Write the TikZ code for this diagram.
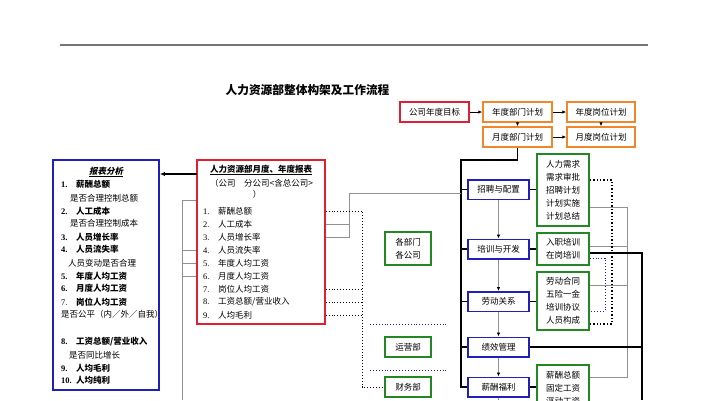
\documentclass[tikz,border=0pt]{standalone}
\usepackage{fontspec}
\setmainfont{Noto Sans CJK SC}
\newfontfamily\numf{Liberation Serif}
\newfontfamily\slantf{Noto Sans CJK SC}[FakeSlant=0.2]
\usetikzlibrary{arrows.meta}

\definecolor{boxred}{RGB}{222,32,52}
\definecolor{boxorange}{RGB}{240,135,45}
\definecolor{boxblue}{RGB}{32,32,185}
\definecolor{boxgreen}{RGB}{35,135,35}
\definecolor{linegray}{RGB}{145,145,145}

\begin{document}
\begin{tikzpicture}[x=1pt,y=-1pt,
    every node/.style={font=\fontsize{8.5}{13}\selectfont,inner sep=0pt},
    box/.style={draw,line width=1.5pt,fill=white,align=center},
    flow/.style={line width=0.8pt,-{Latex[length=4pt,width=3.5pt]}},
    spine/.style={line width=1.5pt},
    grayline/.style={linegray,line width=0.8pt},
    grayarrow/.style={grayline,-{Latex[color=black,length=4pt,width=3.5pt]}},
    blackdots/.style={line width=1.4pt,dotted},
    middots/.style={line width=0.9pt,dotted},
    bluedots/.style={boxblue,line width=0.9pt,dotted}]
    \useasboundingbox (0,0) rectangle (707,400);
    \clip (0,0) rectangle (707,400);

    \draw[linegray!80!black,line width=1.3pt](60,45)--(648,45);
    \node[font=\fontsize{11.7}{14}\selectfont\bfseries](title)at(307.5,90){人力资源部整体构架及工作流程};

    \node[box,draw=boxred,minimum width=69pt,minimum height=20pt](goal)at(434.5,112){公司年度目标};
    \node[box,draw=boxorange,minimum width=69pt,minimum height=20pt](ydept)at(517.5,112){年度部门计划};
    \node[box,draw=boxorange,minimum width=68pt,minimum height=20pt](ypost)at(601,112){年度岗位计划};
    \node[box,draw=boxorange,minimum width=69pt,minimum height=20pt](mdept)at(517.5,137){月度部门计划};
    \node[box,draw=boxorange,minimum width=68pt,minimum height=20pt](mpost)at(601,137){月度岗位计划};
    \draw[flow](goal)--(ydept);
    \draw[flow](ydept)--(ypost);
    \draw[flow](ydept)--(mdept);
    \draw[flow](ypost)--(mpost);
    \draw[flow](mdept)--(mpost);

    \node[draw=boxblue,line width=1.5pt,minimum width=106pt,minimum height=230pt](analysis)at(106,275){};
    \node[font=\fontsize{8.5}{13}\selectfont\bfseries\slantf](a0)at(106,172){\underline{报表分析}};
    \node[anchor=west,font=\fontsize{8.5}{13}\selectfont\bfseries](a1)at(61,184){\makebox[15pt][l]{\numf 1.}薪酬总额};
    \node[anchor=west](a2)at(70,198){是否合理控制总额};
    \node[anchor=west,font=\fontsize{8.5}{13}\selectfont\bfseries](a3)at(61,211){\makebox[15pt][l]{\numf 2.}人工成本};
    \node[anchor=west](a4)at(70,223){是否合理控制成本};
    \node[anchor=west,font=\fontsize{8.5}{13}\selectfont\bfseries](a5)at(61,237){\makebox[15pt][l]{\numf 3.}人员增长率};
    \node[anchor=west,font=\fontsize{8.5}{13}\selectfont\bfseries](a6)at(61,249){\makebox[15pt][l]{\numf 4.}人员流失率};
    \node[anchor=west](a7)at(68,263){人员变动是否合理};
    \node[anchor=west,font=\fontsize{8.5}{13}\selectfont\bfseries](a8)at(61,276){\makebox[15pt][l]{\numf 5.}年度人均工资};
    \node[anchor=west,font=\fontsize{8.5}{13}\selectfont\bfseries](a9)at(61,288){\makebox[15pt][l]{\numf 6.}月度人均工资};
    \node[anchor=west](a10)at(61,302){\makebox[15pt][l]{\numf 7.}\bfseries 岗位人均工资};
    \node[anchor=west](a11)at(61,314){是否公平（内／外／自我）};
    \node[anchor=west,font=\fontsize{8.5}{13}\selectfont\bfseries](a12)at(61,342){\makebox[15pt][l]{\numf 8.}工资总额/营业收入};
    \node[anchor=west](a13)at(69,355){是否同比增长};
    \node[anchor=west,font=\fontsize{8.5}{13}\selectfont\bfseries](a14)at(61,368){\makebox[15pt][l]{\numf 9.}人均毛利};
    \node[anchor=west,font=\fontsize{8.5}{13}\selectfont\bfseries](a15)at(61,380){\makebox[15pt][l]{\numf 10.}人均纯利};

    \node[draw=boxred,line width=1.5pt,minimum width=128pt,minimum height=164pt](report)at(261,242){};
    \node[font=\fontsize{8.5}{13}\selectfont\bfseries](r0)at(261,170){\underline{人力资源部月度、年度报表}};
    \node(rs)at(261.5,183){（公司　分公司<含总公司>};
    \node(rp)at(257,194){）};
    \node[anchor=west](r1)at(203,211){\makebox[15pt][l]{\numf 1.}薪酬总额};
    \node[anchor=west](r2)at(203,224){\makebox[15pt][l]{\numf 2.}人工成本};
    \node[anchor=west](r3)at(203,237){\makebox[15pt][l]{\numf 3.}人员增长率};
    \node[anchor=west](r4)at(203,250){\makebox[15pt][l]{\numf 4.}人员流失率};
    \node[anchor=west](r5)at(203,263){\makebox[15pt][l]{\numf 5.}年度人均工资};
    \node[anchor=west](r6)at(203,276){\makebox[15pt][l]{\numf 6.}月度人均工资};
    \node[anchor=west](r7)at(203,289){\makebox[15pt][l]{\numf 7.}岗位人均工资};
    \node[anchor=west](r8)at(203,302){\makebox[15pt][l]{\numf 8.}工资总额/营业收入};
    \node[anchor=west](r9)at(203,315){\makebox[15pt][l]{\numf 9.}人均毛利};

    \node[box,draw=boxgreen,minimum width=46pt,minimum height=33pt](depts)at(408,248.5){各部门\\各公司};
    \node[box,draw=boxgreen,minimum width=46pt,minimum height=20pt](ops)at(408,347){运营部};
    \node[box,draw=boxgreen,minimum width=46pt,minimum height=20pt](fin)at(408,387){财务部};

    \node[box,draw=boxblue,minimum width=61pt,minimum height=19.5pt](recruit)at(498.5,189.5){招聘与配置};
    \node[box,draw=boxblue,minimum width=61pt,minimum height=19.5pt](train)at(498.5,249){培训与开发};
    \node[box,draw=boxblue,minimum width=61pt,minimum height=19.5pt](labor)at(498.5,301.5){劳动关系};
    \node[box,draw=boxblue,minimum width=61pt,minimum height=19.5pt](perf)at(498.5,347){绩效管理};
    \node[box,draw=boxblue,minimum width=61pt,minimum height=19.5pt](pay)at(498.5,387){薪酬福利};

    \node[box,draw=boxgreen,minimum width=52pt,minimum height=72pt](g1)at(563,190){人力需求\\需求审批\\招聘计划\\计划实施\\计划总结};
    \node[box,draw=boxgreen,minimum width=52pt,minimum height=32pt](g2)at(563,249){入职培训\\在岗培训};
    \node[box,draw=boxgreen,minimum width=52pt,minimum height=58pt](g3)at(563,301){劳动合同\\五险一金\\培训协议\\人员构成};
    \node[box,draw=boxgreen,minimum width=52pt,anchor=north,inner ysep=7pt](g4)at(563,364){薪酬总额\\固定工资\\浮动工资};

    \coordinate(spine)at(461,160);
    \draw[spine](mdept.south)|-(spine)|-(pay.west);
    \draw[spine](spine|-recruit.west)--(recruit.west);
    \draw[spine](spine|-train.west)--(train.west);
    \draw[spine](spine|-labor.west)--(labor.west);
    \draw[spine](spine|-perf.west)--(perf.west);
    \draw[spine](recruit.east)--(recruit.east-|g1.west);
    \draw[spine](train.east)--(train.east-|g2.west);
    \draw[spine](labor.east)--(labor.east-|g3.west);
    \draw[spine](pay.east)--(pay.east-|g4.west);

    \draw[grayarrow](recruit)--(train);
    \draw[grayarrow](train)--(labor);
    \draw[grayarrow](labor)--(perf);
    \draw[grayarrow](perf)--(pay);
    \coordinate(lbot)at(182,400);
    \draw[grayline](pay.south)--(pay.south|-lbot);

    \coordinate(gtop)at(627,207);
    \coordinate(gmid2)at(627,246);
    \coordinate(gmid3)at(627,285);
    \coordinate(gbot)at(627,377);
    \draw[grayline](g1.east|-gtop)--(gtop)--(gbot)--(g4.east|-gbot);
    \draw[grayline](g2.east|-gmid2)--(gmid2);
    \draw[grayline](g3.east|-gmid3)--(gmid3);

    \coordinate(rbus)at(642,253);
    \draw[spine](g2.east|-rbus)--(rbus)--(rbus|-lbot);
    \draw[spine](perf.east)--(perf.east-|rbus);

    \coordinate(kd1)at(612,180);
    \coordinate(kd2)at(612,324);
    \draw[blackdots](g1.east|-kd1)--(kd1)--(kd2)--(g3.east|-kd2);
    \coordinate(bd1)at(605,258);
    \coordinate(bd2)at(605,311);
    \draw[bluedots](g2.east|-bd1)--(bd1)--(bd2)--(g3.east|-bd2);

    \coordinate(gm)at(349,193);
    \draw[grayline](report.east|-r3)-|(gm)--(gm-|spine);
    \draw[grayline](report.east|-r2)--(gm|-r2);

    \coordinate(md)at(362,211);
    \draw[middots](report.east|-r1)-|(md|-fin)--(fin.west);
    \draw[middots](report.east|-r7)--(md|-r7);
    \draw[middots](report.east|-r8)--(md|-r8);
    \draw[middots](report.east|-r9)--(md|-r9);
    \draw[bluedots](370,324)--(447,324);
    \draw[bluedots](370,370)--(447,370);

    \coordinate(lb)at(182,200);
    \draw[grayline](report.west|-lb)--(lb)--(lbot);
    \draw[grayline](report.west|-r4)--(lb|-r4);
    \draw[grayline](report.west|-r5)--(lb|-r5);
    \draw[grayline](report.west|-r6)--(lb|-r6);

    \coordinate(ra)at(197,174);
    \draw[spine,-{Latex[length=5pt,width=4pt]}](ra)--(ra-|analysis.east);
\end{tikzpicture}
\end{document}
